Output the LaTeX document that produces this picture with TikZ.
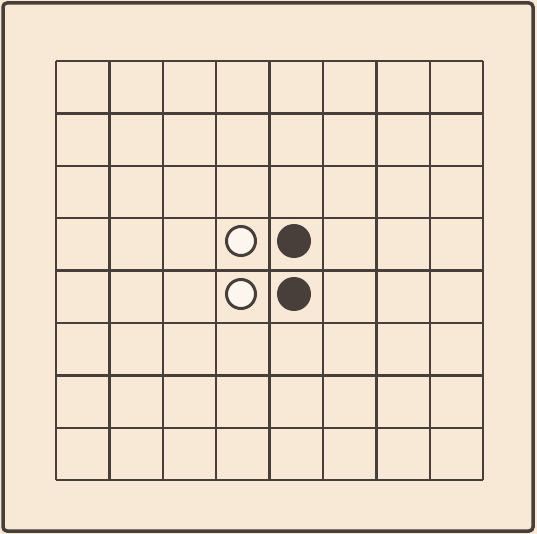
\documentclass[tikz,border=0pt]{standalone}
\usepackage{tikz}
\definecolor{paper}{RGB}{247,233,214}
\definecolor{ink}{RGB}{72,62,58}
\begin{document}
\begin{tikzpicture}[x=1pt, y=-1pt]
  \fill[paper] (0,0) rectangle (537,534);
  \useasboundingbox (0,0) rectangle (537,534);

  \draw[ink, line width=3.5pt, rounded corners=4pt] (3,3) rectangle (533,531);

  \foreach \i in {0,...,8} {
    \draw[ink, line width=2.4pt] ({56+53.4*\i},61) -- ({56+53.4*\i},480);
    \draw[ink, line width=2.4pt] (56,{61+52.4*\i}) -- (483,{61+52.4*\i});
  }

  \node (w1) at (241,241) {};
  \node (w2) at (241,294) {};
  \node (b1) at (294,241) {};
  \node (b2) at (294,294) {};

  \draw[ink, line width=3pt, fill=white!60!paper] (w1.center) circle (14.5pt);
  \draw[ink, line width=3pt, fill=white!60!paper] (w2.center) circle (14.5pt);
  \fill[ink] (b1.center) circle (17pt);
  \fill[ink] (b2.center) circle (17pt);
\end{tikzpicture}
\end{document}
